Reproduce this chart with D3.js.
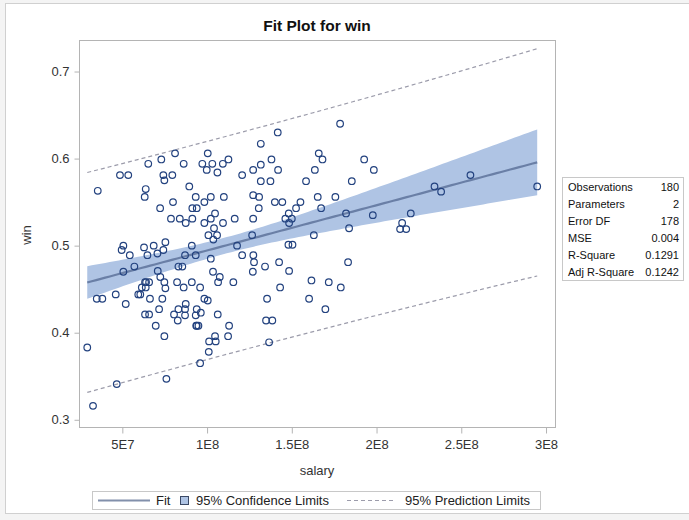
<!DOCTYPE html>
<html>
<head>
<meta charset="utf-8">
<script src="https://cdn.jsdelivr.net/npm/d3@7"></script>
<style>
  body { margin: 0; background: #f4f4f4; }
  svg { display: block; font-family: "Liberation Sans", Arial, sans-serif; }
</style>
</head>
<body>
<svg id="chart"></svg>
<script>
// salary in millions of dollars, win = winning percentage
var salaryM = [
  81.1, 100.4, 73.0, 65.3, 86.2, 97.2, 103.1, 109.3, 112.6, 99.8,
  106.1, 48.6, 53.5, 74.2, 79.5, 74.8, 120.7, 35.5, 63.8, 63.2,
  89.5, 93.3, 102.2, 109.9, 98.4, 79.9, 72.3, 91.3, 93.9, 104.7,
  78.7, 83.9, 87.4, 91.3, 98.4, 102.2, 109.4, 116.3, 104.1, 100.8,
  105.9, 103.7, 50.6, 49.6, 54.4, 62.8, 68.5, 75.4, 64.8, 70.7,
  74.2, 91.0, 87.0, 93.3, 102.2, 117.7, 120.7, 57.1, 83.1, 85.4,
  50.6, 70.9, 72.4, 103.5, 107.5, 106.5, 115.5, 63.4, 65.8, 61.5,
  63.8, 59.4, 60.6, 74.8, 75.4, 82.3, 86.2, 91.0, 95.9, 34.9,
  38.2, 46.1, 52.0, 66.3, 73.6, 87.4, 98.4, 100.4, 63.4, 65.8,
  71.7, 80.5, 83.1, 87.0, 82.7, 87.0, 93.9, 93.3, 96.3, 106.3,
  69.7, 93.9, 94.9, 113.0, 74.8, 104.7, 101.2, 105.1, 112.4, 101.0,
  95.9, 76.0, 46.7, 32.7, 29.3, 178.5, 141.7, 131.7, 165.9, 168.1,
  192.7, 138.0, 131.7, 127.2, 141.9, 163.6, 198.4, 131.7, 137.4, 158.4,
  185.4, 127.2, 130.7, 140.0, 144.4, 155.1, 152.5, 165.3, 175.7, 167.3,
  130.5, 127.2, 148.2, 146.2, 150.0, 148.4, 182.0, 197.8, 126.6, 163.0,
  183.8, 148.0, 150.4, 127.3, 127.7, 127.0, 134.2, 142.5, 148.4, 183.2,
  161.6, 171.8, 178.9, 143.1, 135.4, 160.2, 169.8, 134.8, 138.5, 136.6,
  220.2, 215.1, 213.9, 217.5, 234.2, 238.1, 255.4, 294.8, 64.0, 93.6
];
var win = [
  0.606, 0.606, 0.599, 0.594, 0.594, 0.594, 0.594, 0.594, 0.599, 0.587,
  0.584, 0.581, 0.581, 0.581, 0.581, 0.575, 0.581, 0.563, 0.565, 0.556,
  0.568, 0.556, 0.556, 0.556, 0.550, 0.550, 0.543, 0.543, 0.543, 0.537,
  0.531, 0.531, 0.526, 0.531, 0.526, 0.531, 0.526, 0.531, 0.520, 0.512,
  0.512, 0.507, 0.500, 0.495, 0.489, 0.498, 0.500, 0.504, 0.489, 0.491,
  0.495, 0.500, 0.489, 0.489, 0.485, 0.500, 0.489, 0.476, 0.476, 0.476,
  0.470, 0.471, 0.464, 0.470, 0.464, 0.458, 0.458, 0.458, 0.458, 0.452,
  0.452, 0.444, 0.444, 0.458, 0.451, 0.458, 0.452, 0.458, 0.452, 0.439,
  0.439, 0.444, 0.433, 0.439, 0.439, 0.433, 0.439, 0.437, 0.421, 0.421,
  0.427, 0.421, 0.427, 0.427, 0.414, 0.420, 0.427, 0.420, 0.423, 0.421,
  0.408, 0.408, 0.408, 0.408, 0.396, 0.396, 0.390, 0.390, 0.396, 0.378,
  0.365, 0.347, 0.341, 0.316, 0.383, 0.640, 0.630, 0.617, 0.606, 0.599,
  0.599, 0.599, 0.593, 0.587, 0.587, 0.587, 0.587, 0.574, 0.574, 0.574,
  0.574, 0.558, 0.556, 0.550, 0.550, 0.550, 0.543, 0.556, 0.556, 0.543,
  0.543, 0.531, 0.537, 0.531, 0.531, 0.526, 0.537, 0.535, 0.512, 0.512,
  0.520, 0.501, 0.501, 0.489, 0.481, 0.470, 0.476, 0.481, 0.471, 0.481,
  0.460, 0.458, 0.452, 0.452, 0.439, 0.439, 0.427, 0.414, 0.414, 0.389,
  0.537, 0.526, 0.519, 0.519, 0.568, 0.562, 0.581, 0.568, 0.458, 0.408
];

var xTicks = [5e7, 1e8, 1.5e8, 2e8, 2.5e8, 3e8];
var xTickLabels = ["5E7", "1E8", "1.5E8", "2E8", "2.5E8", "3E8"];
var yTicks = [0.3, 0.4, 0.5, 0.6, 0.7];

var statLabels = ["Observations", "Parameters", "Error DF", "MSE", "R-Square", "Adj R-Square"];
var statValues = ["180", "2", "178", "0.004", "0.1291", "0.1242"];
var tCrit = 1.9734; // t(0.975, 178)

var legendLabels = ["Fit", "95% Confidence Limits", "95% Prediction Limits"];

var W = 689, H = 520;
var plot = { left: 79, top: 40, right: 555, bottom: 427 };

var svg = d3.select("#chart").attr("width", W).attr("height", H);

svg.append("rect")
    .attr("x", 5.5).attr("y", 3.5)
    .attr("width", W).attr("height", 510)
    .attr("fill", "#fff").attr("stroke", "#d0d0d0");

var x = d3.scaleLinear().domain([24.43e6, 305.3e6]).range([plot.left, plot.right]);
var y = d3.scaleLinear().domain([0.2917, 0.7362]).range([plot.bottom, plot.top]);

// least squares fit
var pts = salaryM.map(function(s, i) { return { s: s * 1e6, w: win[i] }; });
var n = pts.length;
var xbar = d3.mean(pts, function(d) { return d.s; });
var ybar = d3.mean(pts, function(d) { return d.w; });
var sxx = d3.sum(pts, function(d) { return (d.s - xbar) * (d.s - xbar); });
var sxy = d3.sum(pts, function(d) { return (d.s - xbar) * (d.w - ybar); });
var b1 = sxy / sxx, b0 = ybar - b1 * xbar;
var sse = d3.sum(pts, function(d) { var r = d.w - (b0 + b1 * d.s); return r * r; });
var mse = sse / (n - 2);

var xs = d3.extent(pts, function(d) { return d.s; });
var grid = d3.range(0, 101).map(function(k) {
    var s = xs[0] + (xs[1] - xs[0]) * k / 100;
    var fit = b0 + b1 * s;
    var h = 1 / n + (s - xbar) * (s - xbar) / sxx;
    var ci = tCrit * Math.sqrt(mse * h);
    var pi = tCrit * Math.sqrt(mse * (1 + h));
    return { s: s, fit: fit, clo: fit - ci, chi: fit + ci, plo: fit - pi, phi: fit + pi };
});

var g = svg.append("g");

g.append("path")
    .datum(grid)
    .attr("fill", "#afc4e4")
    .attr("d", d3.area()
        .x(function(d) { return x(d.s); })
        .y0(function(d) { return y(d.clo); })
        .y1(function(d) { return y(d.chi); }));

["plo", "phi"].forEach(function(k) {
    g.append("path")
        .datum(grid)
        .attr("fill", "none")
        .attr("stroke", "#9c9cab")
        .attr("stroke-width", 1.2)
        .attr("stroke-dasharray", "4,3")
        .attr("d", d3.line()
            .x(function(d) { return x(d.s); })
            .y(function(d) { return y(d[k]); }));
});

g.append("path")
    .datum(grid)
    .attr("fill", "none")
    .attr("stroke", "#6a7fa6")
    .attr("stroke-width", 2.2)
    .attr("d", d3.line()
        .x(function(d) { return x(d.s); })
        .y(function(d) { return y(d.fit); }));

g.selectAll("circle")
    .data(pts)
    .enter().append("circle")
    .attr("cx", function(d) { return x(d.s); })
    .attr("cy", function(d) { return y(d.w); })
    .attr("r", 3.3)
    .attr("fill", "none")
    .attr("stroke", "#23427f")
    .attr("stroke-width", 1.2);

// frame
svg.append("rect")
    .attr("x", plot.left + 0.5).attr("y", plot.top + 0.5)
    .attr("width", plot.right - plot.left).attr("height", plot.bottom - plot.top)
    .attr("fill", "none").attr("stroke", "#b4b4b4");

var xAxis = svg.append("g")
    .attr("transform", "translate(0," + (plot.bottom + 0.5) + ")")
    .call(d3.axisBottom(x).tickValues(xTicks)
        .tickFormat(function(d, i) { return xTickLabels[i]; })
        .tickSize(6).tickPadding(6));

var yAxis = svg.append("g")
    .attr("transform", "translate(" + (plot.left + 0.5) + ",0)")
    .call(d3.axisLeft(y).tickValues(yTicks)
        .tickFormat(d3.format(".1f"))
        .tickSize(5).tickPadding(5));

[xAxis, yAxis].forEach(function(a) {
    a.select(".domain").remove();
    a.selectAll(".tick line").attr("stroke", "#b4b4b4");
    a.selectAll(".tick text")
        .attr("fill", "#333")
        .style("font-size", "13px")
        .style("font-family", "'Liberation Sans', Arial, sans-serif");
});

svg.append("text")
    .attr("x", 317).attr("y", 31)
    .attr("text-anchor", "middle")
    .style("font-size", "15.5px").style("font-weight", "bold")
    .attr("fill", "#111")
    .text("Fit Plot for win");

svg.append("text")
    .attr("x", 317).attr("y", 475)
    .attr("text-anchor", "middle")
    .style("font-size", "13px").attr("fill", "#333")
    .text("salary");

svg.append("text")
    .attr("transform", "translate(31,235) rotate(-90)")
    .attr("text-anchor", "middle")
    .style("font-size", "13px").attr("fill", "#333")
    .text("win");

// statistics inset
var st = svg.append("g").attr("transform", "translate(562,177)");
st.append("rect")
    .attr("x", 0.5).attr("y", 0.5).attr("width", 121).attr("height", 103)
    .attr("fill", "#fff").attr("stroke", "#c8c8c8");
statLabels.forEach(function(l, i) {
    st.append("text")
        .attr("x", 6).attr("y", 14 + i * 17)
        .style("font-size", "11px").attr("fill", "#111")
        .text(l);
    st.append("text")
        .attr("x", 117).attr("y", 14 + i * 17)
        .attr("text-anchor", "end")
        .style("font-size", "11px").attr("fill", "#111")
        .text(statValues[i]);
});

// legend
var lg = svg.append("g");
lg.append("rect")
    .attr("x", 92.5).attr("y", 491.5).attr("width", 448).attr("height", 18)
    .attr("fill", "#fff").attr("stroke", "#c8c8c8");
lg.append("line")
    .attr("x1", 98).attr("x2", 150).attr("y1", 500.5).attr("y2", 500.5)
    .attr("stroke", "#8290ab").attr("stroke-width", 2.2);
lg.append("text")
    .attr("x", 156).attr("y", 505)
    .style("font-size", "13px").attr("fill", "#222")
    .text(legendLabels[0]);
lg.append("rect")
    .attr("x", 180.5).attr("y", 496.5).attr("width", 8).attr("height", 8)
    .attr("fill", "#afc4e4").attr("stroke", "#3c4a66");
lg.append("text")
    .attr("x", 196).attr("y", 505)
    .style("font-size", "13px").attr("fill", "#222")
    .text(legendLabels[1]);
lg.append("line")
    .attr("x1", 347).attr("x2", 396).attr("y1", 500.5).attr("y2", 500.5)
    .attr("stroke", "#9c9cab").attr("stroke-width", 1.2)
    .attr("stroke-dasharray", "4,3");
lg.append("text")
    .attr("x", 405).attr("y", 505)
    .style("font-size", "13px").attr("fill", "#222")
    .text(legendLabels[2]);
</script>
</body>
</html>
